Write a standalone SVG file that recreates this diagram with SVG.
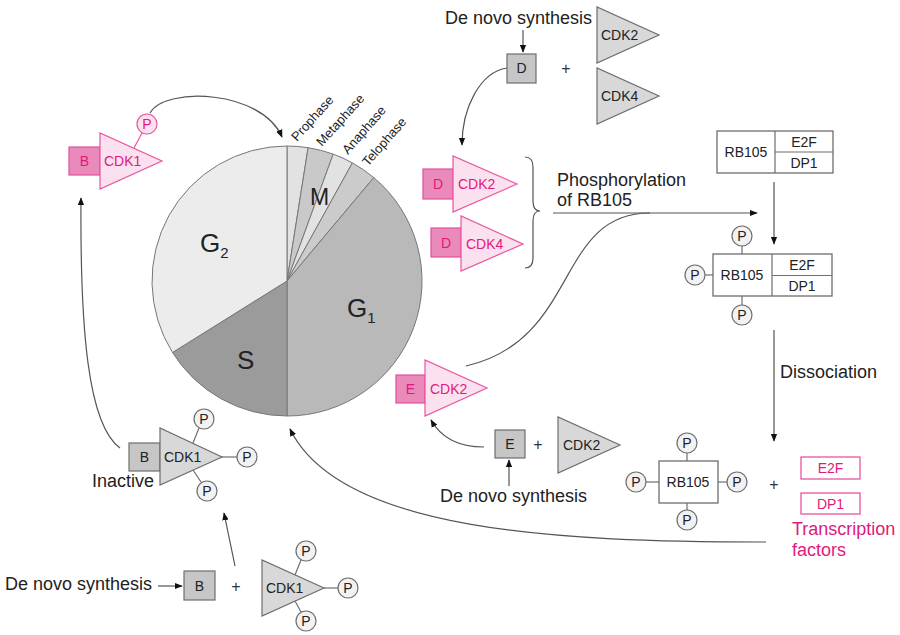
<svg xmlns="http://www.w3.org/2000/svg" width="900" height="635" viewBox="0 0 900 635">
<defs>
<marker id="ah" viewBox="0 0 10 10" refX="9" refY="5" markerWidth="8" markerHeight="8" markerUnits="userSpaceOnUse" orient="auto">
<path d="M0,1 L10,5 L0,9 Z" fill="#111"/>
</marker>
<style>
text{font-family:"Liberation Sans",Arial,sans-serif;fill:#222}
.big{font-size:18px}
.lbl{font-size:14px}
.plus{font-size:16px;fill:#333}
.ph{font-size:13px}
.pk{fill:#e0197d}
.gbox{fill:#c6c6c6;stroke:#6e6e6e;stroke-width:1.2}
.gtri{fill:#d8d8d8;stroke:#6e6e6e;stroke-width:1.2}
.pbox{fill:#ea8abb;stroke:#e0509a;stroke-width:1.2}
.ptri{fill:#fbe1ef;stroke:#e8559f;stroke-width:1.2}
.pc{fill:#f2f2f2;stroke:#6e6e6e;stroke-width:1.2}
.pcp{fill:#fbe1ef;stroke:#e8559f;stroke-width:1.2}
.stem{stroke:#6e6e6e;stroke-width:1.2;fill:none}
.stemp{stroke:#e8559f;stroke-width:1.2;fill:none}
.wbox{fill:#fff;stroke:#6e6e6e;stroke-width:1.3}
.pkbox{fill:#fff;stroke:#e8559f;stroke-width:1.3}
.con{fill:none;stroke:#555;stroke-width:1.2}
.arr{fill:none;stroke:#555;stroke-width:1.2;marker-end:url(#ah)}
.pie{stroke:#777;stroke-width:1}
.c{text-anchor:middle}
</style>
</defs>

<g id="pie">
<path class="pie" fill="#e2e2e2" d="M287,281 L287,146 A135,135 0 0 1 308.1,147.7 Z"/>
<path class="pie" fill="#c9c9c9" d="M287,281 L308.1,147.7 A135,135 0 0 1 333.2,154.1 Z"/>
<path class="pie" fill="#e2e2e2" d="M287,281 L333.2,154.1 A135,135 0 0 1 352.4,162.9 Z"/>
<path class="pie" fill="#cbcbcb" d="M287,281 L352.4,162.9 A135,135 0 0 1 373.8,177.6 Z"/>
<path class="pie" fill="#b9b9b9" d="M287,281 L373.8,177.6 A135,135 0 0 1 287,416 Z"/>
<path class="pie" fill="#9b9b9b" d="M287,281 L287,416 A135,135 0 0 1 172.5,352.5 Z"/>
<path class="pie" fill="#ececec" d="M287,281 L172.5,352.5 A135,135 0 0 1 287,146 Z"/>
<text x="200" y="252" font-size="26">G<tspan font-size="15" dy="6">2</tspan></text>
<text x="347" y="317" font-size="26">G<tspan font-size="15" dy="6">1</tspan></text>
<text x="237" y="369" font-size="26">S</text>
<text x="310" y="205" font-size="23">M</text>
<text class="ph" transform="translate(297,142) rotate(-48)">Prophase</text>
<text class="ph" transform="translate(322,147) rotate(-48)">Metaphase</text>
<text class="ph" transform="translate(348,155) rotate(-49)">Anaphase</text>
<text class="ph" transform="translate(368,167) rotate(-49)">Telophase</text>
</g>

<g id="connectors">
<path class="arr" d="M150,113 C165,86 262,90 282,137"/>
<path class="arr" d="M523,30 L523,52"/>
<path class="arr" d="M507,68 C480,72 462,108 462,145"/>
<path class="con" d="M525,157 Q533,157 533,167 L533,201 Q533,211 540,211 Q533,211 533,221 L533,258 Q533,268 525,268"/>
<path class="arr" d="M553,213 L757,213"/>
<path class="con" d="M466,366 C580,340 555,213 650,213"/>
<path class="arr" d="M774,182 L774,244"/>
<path class="arr" d="M774,330 L774,441"/>
<path class="arr" d="M766,542 C560,542 340,532 290,429"/>
<path class="arr" d="M484,447 C455,447 440,436 431,420"/>
<path class="arr" d="M509,486 L509,460"/>
<path class="arr" d="M120,448 C88,425 80,330 81,198"/>
<path class="arr" d="M158,586 L182,586"/>
<path class="arr" d="M235,566 L224,513"/>
</g>

<g id="cdk1-b-active">
<line class="stemp" x1="134" y1="148" x2="142" y2="133"/>
<rect class="pbox" x="69" y="147" width="31" height="28"/>
<polygon class="ptri" points="100,133 100,189 162,161"/>
<circle class="pcp" cx="147" cy="124" r="10"/>
<text class="lbl pk c" x="84.5" y="166">B</text>
<text class="lbl pk" x="104" y="166">CDK1</text>
<text class="lbl pk c" x="147" y="129">P</text>
</g>

<g id="denovo-d">
<text class="big" x="445" y="24">De novo synthesis</text>
</g>
<g id="cyclin-d">
<rect class="gbox" x="507" y="54" width="29" height="29"/>
<text class="lbl c" x="521.5" y="73">D</text>
<text class="plus c" x="566" y="74">+</text>
</g>
<g id="cdk2-free">
<polygon class="gtri" points="597,7 597,63 659,35"/>
<text class="lbl" x="601" y="40">CDK2</text>
</g>
<g id="cdk4-free">
<polygon class="gtri" points="597,68 597,124 659,96"/>
<text class="lbl" x="601" y="101">CDK4</text>
</g>

<g id="d-cdk2">
<rect class="pbox" x="423" y="169" width="30" height="30"/>
<polygon class="ptri" points="453,156 453,212 517,184"/>
<text class="lbl pk c" x="438" y="189">D</text>
<text class="lbl pk" x="458" y="189">CDK2</text>
</g>
<g id="d-cdk4">
<rect class="pbox" x="431" y="228" width="30" height="29"/>
<polygon class="ptri" points="461,216 461,271 523,244"/>
<text class="lbl pk c" x="446" y="248">D</text>
<text class="lbl pk" x="466" y="249">CDK4</text>
</g>

<g id="phospho-label">
<text class="big" x="557" y="186">Phosphorylation</text>
<text class="big" x="557" y="206">of RB105</text>
</g>

<g id="rb105-e2f">
<rect class="wbox" x="717" y="131" width="116" height="42"/>
<line class="stem" x1="775" y1="131" x2="775" y2="173"/>
<line class="stem" x1="775" y1="152" x2="833" y2="152"/>
<text class="lbl c" x="746" y="157">RB105</text>
<text class="lbl c" x="804" y="147">E2F</text>
<text class="lbl c" x="804" y="168">DP1</text>
</g>

<g id="rb105p-e2f">
<line class="stem" x1="742" y1="246" x2="742" y2="254"/>
<line class="stem" x1="705" y1="275" x2="713" y2="275"/>
<line class="stem" x1="742" y1="296" x2="742" y2="305"/>
<rect class="wbox" x="713" y="254" width="119" height="42"/>
<line class="stem" x1="772" y1="254" x2="772" y2="296"/>
<line class="stem" x1="772" y1="275.5" x2="832" y2="275.5"/>
<text class="lbl c" x="742" y="280">RB105</text>
<text class="lbl c" x="802" y="270">E2F</text>
<text class="lbl c" x="802" y="291">DP1</text>
<circle class="pc" cx="742" cy="236" r="10"/><text class="lbl c" x="742" y="241">P</text>
<circle class="pc" cx="695" cy="275" r="10"/><text class="lbl c" x="695" y="280">P</text>
<circle class="pc" cx="742" cy="315" r="10"/><text class="lbl c" x="742" y="320">P</text>
</g>

<g id="dissociation-label">
<text class="big" x="780" y="378">Dissociation</text>
</g>

<g id="rb105-pppp">
<line class="stem" x1="687" y1="453" x2="687" y2="461"/>
<line class="stem" x1="646" y1="482" x2="659" y2="482"/>
<line class="stem" x1="718" y1="482" x2="727" y2="482"/>
<line class="stem" x1="687" y1="503" x2="687" y2="510"/>
<rect class="wbox" x="659" y="461" width="59" height="42"/>
<text class="lbl c" x="688" y="487">RB105</text>
<circle class="pc" cx="687" cy="443" r="10"/><text class="lbl c" x="687" y="448">P</text>
<circle class="pc" cx="636" cy="482" r="10"/><text class="lbl c" x="636" y="487">P</text>
<circle class="pc" cx="737" cy="482" r="10"/><text class="lbl c" x="737" y="487">P</text>
<circle class="pc" cx="687" cy="520" r="10"/><text class="lbl c" x="687" y="525">P</text>
<text class="plus c" x="774" y="490">+</text>
</g>

<g id="transcription-factors">
<rect class="pkbox" x="801" y="457" width="59" height="22"/>
<text class="lbl pk c" x="830.5" y="473">E2F</text>
<rect class="pkbox" x="801" y="493" width="59" height="21"/>
<text class="lbl pk c" x="830.5" y="509">DP1</text>
<text class="big pk" x="792" y="535">Transcription</text>
<text class="big pk" x="792" y="556">factors</text>
</g>

<g id="e-cdk2">
<rect class="pbox" x="396" y="375" width="29" height="28"/>
<polygon class="ptri" points="425,360 425,416 487,388"/>
<text class="lbl pk c" x="410.5" y="394">E</text>
<text class="lbl pk" x="430" y="394">CDK2</text>
</g>

<g id="cyclin-e">
<rect class="gbox" x="495" y="430" width="30" height="28"/>
<text class="lbl c" x="510" y="449">E</text>
<text class="plus c" x="538" y="450">+</text>
</g>
<g id="cdk2-free-e">
<polygon class="gtri" points="558,417 558,473 620,445"/>
<text class="lbl" x="563" y="450">CDK2</text>
</g>
<g id="denovo-e">
<text class="big" x="440" y="502">De novo synthesis</text>
</g>

<g id="cdk1-b-inactive">
<line class="stem" x1="193" y1="443" x2="199" y2="428"/>
<line class="stem" x1="222" y1="457" x2="237" y2="457"/>
<line class="stem" x1="193" y1="470" x2="201" y2="482"/>
<rect class="gbox" x="129" y="443" width="31" height="28"/>
<polygon class="gtri" points="160,428 160,485 222,457"/>
<text class="lbl c" x="144.5" y="462">B</text>
<text class="lbl" x="164" y="462">CDK1</text>
<circle class="pc" cx="204" cy="419" r="10"/><text class="lbl c" x="204" y="424">P</text>
<circle class="pc" cx="247" cy="457" r="10"/><text class="lbl c" x="247" y="462">P</text>
<circle class="pc" cx="207" cy="491" r="10"/><text class="lbl c" x="207" y="496">P</text>
<text class="big" x="92" y="487">Inactive</text>
</g>

<g id="denovo-b">
<text class="big" x="5" y="590">De novo synthesis</text>
</g>
<g id="cyclin-b">
<rect class="gbox" x="184" y="571" width="31" height="29"/>
<text class="lbl c" x="199.5" y="591">B</text>
<text class="plus c" x="236" y="592">+</text>
</g>
<g id="cdk1-ppp">
<line class="stem" x1="295" y1="575" x2="301" y2="560"/>
<line class="stem" x1="324" y1="588" x2="338" y2="588"/>
<line class="stem" x1="295" y1="601" x2="301" y2="612"/>
<polygon class="gtri" points="262,560 262,616 324,588"/>
<text class="lbl" x="266" y="593">CDK1</text>
<circle class="pc" cx="306" cy="551" r="10"/><text class="lbl c" x="306" y="556">P</text>
<circle class="pc" cx="348" cy="588" r="10"/><text class="lbl c" x="348" y="593">P</text>
<circle class="pc" cx="306" cy="621" r="10"/><text class="lbl c" x="306" y="626">P</text>
</g>
</svg>
